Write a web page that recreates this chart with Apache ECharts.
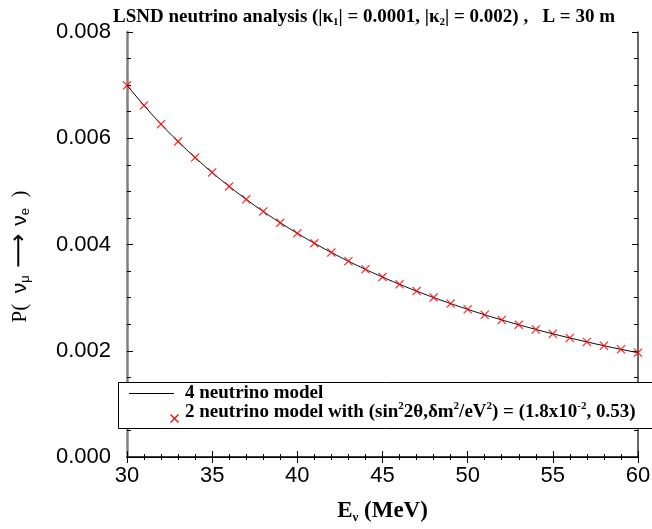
<!DOCTYPE html>
<html>
<head>
<meta charset="utf-8">
<script src="https://cdn.jsdelivr.net/npm/echarts@6/dist/echarts.min.js"></script>
<style>
html,body{margin:0;padding:0;background:#fff;}
#chart{width:652px;height:529px;}
</style>
</head>
<body>
<div id="chart"></div>
<script>
// Neutrino energy (MeV)
const energies = [30,31,32,33,34,35,36,37,38,39,40,41,42,43,44,45,46,47,48,49,50,51,52,53,54,55,56,57,58,59,60];
// 2 neutrino model points (red crosses)
const probTwoNu = [0.006996,0.006617,0.006265,0.005939,0.005637,0.005356,0.005094,0.004850,0.004622,0.004409,0.004211,0.004024,0.003850,0.003686,0.003532,0.003388,0.003251,0.003123,0.003002,0.002888,0.002780,0.002677,0.002581,0.002489,0.002402,0.002319,0.002241,0.002166,0.002095,0.002027,0.001963];
// 4 neutrino model curve (black line)
const probFourNu = [0.006996,0.006617,0.006265,0.005939,0.005637,0.005356,0.005094,0.004850,0.004622,0.004409,0.004211,0.004024,0.003850,0.003686,0.003532,0.003388,0.003251,0.003123,0.003002,0.002888,0.002780,0.002677,0.002581,0.002489,0.002402,0.002319,0.002241,0.002166,0.002095,0.002027,0.001963];
const xTickValues = [30,35,40,45,50,55,60];
const yTickLabels = ['0.000','0.002','0.004','0.006','0.008'];

const serif = '"Liberation Serif","Times New Roman",serif';
const sans = '"Liberation Sans",Arial,sans-serif';
const crossPath = 'path://M0,1L1,0L5,4L9,0L10,1L6,5L10,9L9,10L5,6L1,10L0,9L4,5Z';

const chart = echarts.init(document.getElementById('chart'), null, {renderer:'canvas'});
const lineData = energies.map((e,i)=>[e, probFourNu[i]]);
const ptData = energies.map((e,i)=>[e, probTwoNu[i]]);

const option = {
  backgroundColor:'#ffffff',
  animation:false,
  title:{
    left: 359, top: 1, textAlign:'center',
    text:'{b|LSND neutrino analysis (|κ}{s|1}{b|| = 0.0001, |κ}{s|2}{b|| = 0.002) ,   L = 30 m}',
    textStyle:{
      rich:{
        b:{fontFamily:serif,fontWeight:'bold',fontSize:19,color:'#000',lineHeight:22,verticalAlign:'middle'},
        s:{fontFamily:serif,fontWeight:'bold',fontSize:11,color:'#000',lineHeight:8,verticalAlign:'bottom'}
      }
    }
  },
  grid:{left:127,right:14,top:32,bottom:72,containLabel:false,outerBoundsMode:'none'},
  xAxis:[{
    type:'value', min:30, max:60, interval:5, position:'bottom',
    axisLine:{lineStyle:{color:'#000',width:1.5}},
    axisTick:{inside:true,length:6,lineStyle:{color:'#000',width:1}},
    minorTick:{show:true,splitNumber:5,length:3,lineStyle:{color:'#000',width:1}},
    axisLabel:{fontFamily:sans,fontSize:22,color:'#000',margin:8,
      formatter:v=> xTickValues.indexOf(v)>=0 ? String(v) : ''},
    name:'{b|E}{s|ν}{b| (MeV)}', nameLocation:'middle', nameGap:41,
    nameTextStyle:{rich:{
      b:{fontFamily:serif,fontWeight:'bold',fontSize:23,color:'#000',lineHeight:26,verticalAlign:'middle'},
      s:{fontFamily:serif,fontWeight:'bold',fontSize:13,color:'#000',lineHeight:10,verticalAlign:'bottom'}
    }},
    splitLine:{show:false}
  },{
    type:'value', min:30, max:60, interval:5, position:'top',
    axisLine:{lineStyle:{color:'#000',width:1}},
    axisTick:{inside:true,length:6,lineStyle:{color:'#000',width:1}},
    minorTick:{show:true,splitNumber:5,length:3,lineStyle:{color:'#000',width:1}},
    axisLabel:{show:false}, splitLine:{show:false}
  }],
  yAxis:[{
    type:'value', min:0, max:0.008, interval:0.002, position:'left',
    axisLine:{show:true,lineStyle:{color:'#808080',width:2.5}},
    axisTick:{show:true,inside:true,length:6,lineStyle:{color:'#000',width:1}},
    minorTick:{show:true,splitNumber:4,length:4,lineStyle:{color:'#000',width:1}},
    axisLabel:{fontFamily:sans,fontSize:22,color:'#000',margin:16,
      formatter:(v)=> yTickLabels[Math.round(v/0.002)]},
    name:'{p|P(  }{n|ν}{u|μ}{a| ⟶ }{n|ν}{u|e}{p|  )}', nameLocation:'middle', nameGap:95, nameRotate:90,
    nameTextStyle:{padding:[0,24,0,0],rich:{
      p:{fontFamily:serif,fontSize:21,color:'#000',lineHeight:24,verticalAlign:'middle'},
      n:{fontFamily:sans,fontSize:21,color:'#000',lineHeight:24,verticalAlign:'middle'},
      a:{fontFamily:'"DejaVu Sans"',fontSize:24,fontWeight:'normal',color:'#000',lineHeight:24,verticalAlign:'middle'},
      u:{fontFamily:sans,fontSize:13,color:'#000',lineHeight:10,verticalAlign:'bottom'}
    }},
    splitLine:{show:false}
  },{
    type:'value', min:0, max:0.008, interval:0.002, position:'right',
    axisLine:{show:true,lineStyle:{color:'#333',width:1.5}},
    axisTick:{show:true,inside:true,length:6,lineStyle:{color:'#000',width:1}},
    minorTick:{show:true,splitNumber:4,length:4,lineStyle:{color:'#000',width:1}},
    axisLabel:{show:false}, splitLine:{show:false}
  }],
  series:[{
    name:'4 neutrino model', type:'line', data:lineData, smooth:true,
    showSymbol:false, symbol:'none', lineStyle:{color:'#000',width:1}, z:2
  },{
    name:'2 neutrino model', type:'scatter', data:ptData, symbol:crossPath, symbolSize:9,
    itemStyle:{color:'#ff0000'}, z:3
  }],
  graphic:[{
    type:'rect', z:100,
    shape:{x:118.5,y:382.5,width:545,height:46},
    style:{fill:'#fff',stroke:'#000',lineWidth:1}
  },{
    type:'line', z:101,
    shape:{x1:129,y1:393.5,x2:174,y2:393.5},
    style:{stroke:'#000',lineWidth:1}
  },{
    type:'line', z:101,
    shape:{x1:170.5,y1:414.5,x2:178.5,y2:422.5},
    style:{stroke:'#ff0000',lineWidth:1.2}
  },{
    type:'line', z:101,
    shape:{x1:178.5,y1:414.5,x2:170.5,y2:422.5},
    style:{stroke:'#ff0000',lineWidth:1.2}
  },{
    type:'text', z:101, x:185, y:393,
    style:{text:'4 neutrino model', font:'bold 19px '+serif, fill:'#000', verticalAlign:'middle'}
  },{
    type:'text', z:101, x:185, y:412,
    style:{
      verticalAlign:'middle',
      text:'{b|2 neutrino model with (sin}{p|2}{b|2θ,δm}{p|2}{b|/eV}{p|2}{b|) = (1.8x10}{p|-2}{b|, 0.53)}',
      rich:{
        b:{fontFamily:serif,fontWeight:'bold',fontSize:19,fill:'#000',lineHeight:22,verticalAlign:'middle'},
        p:{fontFamily:serif,fontWeight:'bold',fontSize:11,fill:'#000',lineHeight:12,verticalAlign:'top'}
      }
    }
  }]
};
chart.setOption(option);
</script>
</body>
</html>
